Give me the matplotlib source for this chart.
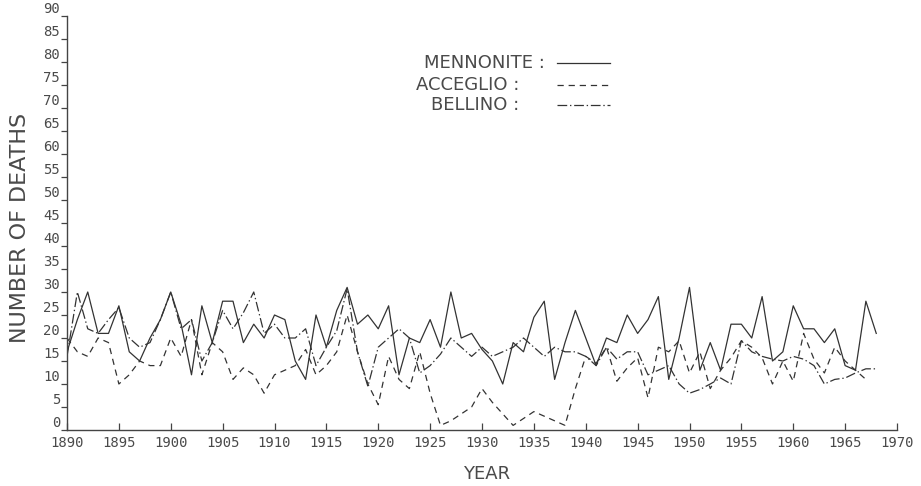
import matplotlib
matplotlib.use("Agg")
import matplotlib.pyplot as plt

years = list(range(1890, 1969))

mennonite = [17, 24, 30, 21, 21, 27, 17, 15, 20, 24,
             30, 23, 12, 27, 19, 28, 28, 19, 23, 20,
             25, 24, 15, 11, 25, 18, 26, 31, 23, 25,
             22, 27, 12, 20, 19, 24, 18, 30, 20, 21,
             17.5, 15, 10, 19, 17, 24.5, 28, 11, 19, 26,
             20, 14, 20, 19, 25, 21, 24, 29, 11, 20,
             31, 13, 19, 13, 23, 23, 20, 29, 15, 17,
             27, 22, 22, 19, 22, 14, 13, 28, 21]

acceglio = [20, 17, 16, 20, 19, 10, 12, 15, 14, 14,
            20, 16, 24, 12, 19, 17, 11, 13.5, 12, 8,
            12, 13, 14, 17.5, 12, 14, 17, 25, 17, 10,
            5.5, 16, 11, 9, 17, 8, 1, 2, 3.5, 5,
            9, 6, 3.5, 1, 2.5, 4, 3, 2, 1, 9,
            16, 14.5, 18, 10.6, 13.5, 15.7, 7, 18, 17, 19.4,
            12.4, 17, 9, 13, 15.7, 19.4, 18, 15.7, 10, 15,
            10.6, 21, 15.4, 12.4, 18, 15, 13, 11]

bellino = [16, 30, 22, 21, 24, 26.6, 20, 18, 19, 24,
           30, 22, 24, 15, 19, 26, 22, 25.5, 30, 21,
           23, 20, 20, 22, 14, 18, 21.6, 30.7, 17, 9.5,
           18, 20, 22, 20, 12.4, 14, 16.5, 20, 18, 16,
           18, 16, 17, 18, 20, 18, 16, 18, 17, 17,
           16, 14, 18, 15.4, 17, 17, 12, 13, 14, 10,
           8, 8.8, 10, 11.3, 10, 19.4, 17, 16, 15.4, 15,
           16, 15.4, 14, 10, 11, 11.3, 12.4, 13.3, 13.3]

series_names = ["MENNONITE :", "ACCEGLIO :", "BELLINO :"]

plt.rcParams["lines.scale_dashes"] = False
ink = "#333333"
txt = "#4a4a4a"
styles = ["-", (0, (4.5, 3.5)), (0, (7, 2, 1, 2))]

fig = plt.figure(figsize=(9.21, 4.86), dpi=100)
ax = fig.add_axes([67 / 921, 56 / 486, 830 / 921, 414 / 486])

ax.plot(years, mennonite, linestyle=styles[0], color=ink, lw=0.9)
ax.plot(years[:len(acceglio)], acceglio, linestyle=styles[1], color=ink, lw=0.9)
ax.plot(years, bellino, linestyle=styles[2], color=ink, lw=0.9)

ax.set_xlim(1890, 1970)
ax.set_ylim(0, 90)
ax.set_xticks(range(1890, 1971, 5))
ax.set_yticks(range(0, 91, 5))
for s in ["top", "right"]:
    ax.spines[s].set_visible(False)
for s in ["left", "bottom"]:
    ax.spines[s].set_color("#444444")
    ax.spines[s].set_linewidth(1.0)

ax.tick_params(axis="x", direction="in", length=5, width=0.9, color="#444444",
               labelsize=10, labelcolor=txt, pad=4)
ax.tick_params(axis="y", direction="out", length=4, width=0.9, color="#444444",
               labelsize=10, labelcolor=txt, pad=1)
for lab in ax.get_xticklabels() + ax.get_yticklabels():
    lab.set_family("DejaVu Sans Mono")
for lab in ax.get_yticklabels():
    lab.set_verticalalignment("bottom")

fig.text(487 / 921, 1 - 474 / 486, "YEAR", ha="center", va="center",
         fontsize=13, color=txt)
fig.text(20 / 921, 1 - 228 / 486, "NUMBER OF DEATHS", ha="center", va="center",
         rotation=90, fontsize=16, color=txt)

# hand drawn key, like the plotter output
key_y = [63, 85, 105]
key_right = [545, 519, 519]
for name, st, yy, xr in zip(series_names, styles, key_y, key_right):
    fig.text(xr / 921, 1 - yy / 486, name, ha="right", va="center",
             fontsize=13, color=txt)
    fig.add_artist(plt.Line2D([557 / 921, 610 / 921], [1 - yy / 486, 1 - yy / 486],
                              transform=fig.transFigure, linestyle=st,
                              color=ink, lw=0.9))

fig.savefig("out.png", dpi=100, facecolor="white")
